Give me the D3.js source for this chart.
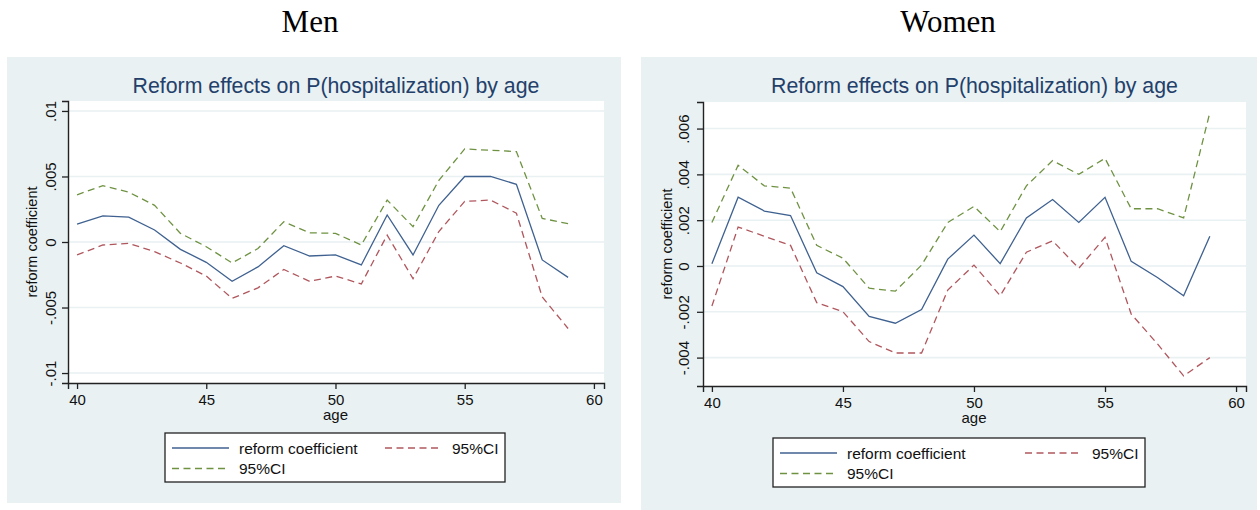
<!DOCTYPE html>
<html>
<head>
<meta charset="utf-8">
<script src="https://cdn.jsdelivr.net/npm/d3@7"></script>
<style>
  html, body { margin: 0; padding: 0; background: #ffffff; }
  svg { display: block; }
</style>
</head>
<body>
<svg id="chart" width="1260" height="510"></svg>
<script>
// ---------- data ----------
const ages = [40,41,42,43,44,45,46,47,48,49,50,51,52,53,54,55,56,57,58,59];

const menCoef  = [0.00137,0.0020,0.0019,0.00092,-0.00056,-0.00155,-0.0030,-0.0019,-0.00028,-0.00107,-0.00099,-0.00175,0.00206,-0.00099,0.0028,0.0050,0.0050,0.0044,-0.00137,-0.0027];
const menLower = [-0.00099,-0.00023,-0.0001,-0.00074,-0.0016,-0.0026,-0.0043,-0.0035,-0.0021,-0.0030,-0.0026,-0.0032,0.00053,-0.0028,0.0008,0.0031,0.0032,0.0022,-0.0042,-0.0066];
const menUpper = [0.0036,0.0043,0.0038,0.0028,0.00066,-0.00036,-0.0016,-0.0005,0.00155,0.0007,0.00066,-0.00023,0.0032,0.00117,0.0047,0.0071,0.0070,0.0069,0.0018,0.0014];

const womenCoef  = [0.0001,0.0030,0.0024,0.0022,-0.0003,-0.0009,-0.0022,-0.0025,-0.0019,0.0003,0.00135,0.0001,0.0021,0.0029,0.0019,0.0030,0.0002,-0.0005,-0.0013,0.0013];
const womenLower = [-0.00175,0.0017,0.0013,0.0009,-0.0016,-0.0020,-0.0033,-0.0038,-0.0038,-0.00105,0.00004,-0.0013,0.0006,0.0011,-0.0001,0.00125,-0.0021,-0.0034,-0.0048,-0.0040];
const womenUpper = [0.0019,0.0044,0.0035,0.0034,0.0009,0.00034,-0.00097,-0.0011,0.00004,0.0019,0.0026,0.0015,0.0035,0.0046,0.0040,0.0047,0.0025,0.0025,0.0021,0.0067];

const xTicks = [40,45,50,55,60];
const menYTicks = [-0.01,-0.005,0,0.005,0.01];
const menYLabels = ["-.01","-.005","0",".005",".01"];
const womenYTicks = [-0.004,-0.002,0,0.002,0.004,0.006];
const womenYLabels = ["-.004","-.002","0",".002",".004",".006"];

const panelTitles = ["Men","Women"];
const chartTitle = "Reform effects on P(hospitalization) by age";
const xTitle = "age";
const yTitle = "reform coefficient";
const legendLabels = ["reform coefficient","95%CI","95%CI"];

// ---------- styles ----------
const C_BG = "#e9f1f3";
const C_GRID = "#e9f1f3";
const C_BLUE = "#3f6190";
const C_RED = "#b0575e";
const C_GREEN = "#6f9242";
const C_TITLE = "#23406a";
const SANS = "'Liberation Sans', Arial, sans-serif";
const SERIF = "'Liberation Serif', 'Times New Roman', serif";
const DASH = "7,4.5";

const svg = d3.select("#chart");

function drawPanel(cfg) {
  const g = svg.append("g");
  // panel background
  g.append("rect").attr("x", cfg.bg[0]).attr("y", cfg.bg[1])
    .attr("width", cfg.bg[2]).attr("height", cfg.bg[3]).attr("fill", C_BG);
  // top label
  svg.append("text").attr("x", cfg.headX).attr("y", 32)
    .attr("text-anchor", "middle").attr("font-family", SERIF)
    .attr("font-size", 31).attr("fill", "#000").text(cfg.head);

  const x = d3.scaleLinear().domain(cfg.xDomain).range([cfg.left, cfg.right]);
  const y = d3.scaleLinear().domain(cfg.yDomain).range([cfg.bottom, cfg.top]);

  // plot area
  g.append("rect").attr("x", cfg.left).attr("y", cfg.top)
    .attr("width", cfg.right - cfg.left).attr("height", cfg.bottom - cfg.top)
    .attr("fill", "#ffffff");

  // grid
  g.selectAll(".grid").data(cfg.yTicks).enter().append("line")
    .attr("x1", cfg.left).attr("x2", cfg.right)
    .attr("y1", d => y(d)).attr("y2", d => y(d))
    .attr("stroke", C_GRID).attr("stroke-width", 1.6);

  // title
  g.append("text").attr("x", (cfg.left + cfg.right) / 2).attr("y", 93)
    .attr("text-anchor", "middle").attr("font-family", SANS)
    .attr("font-size", 21.3).attr("fill", C_TITLE).text(chartTitle);

  // lines
  const line = d3.line().x((d, i) => x(ages[i])).y(d => y(d));
  const series = [
    {v: cfg.upper, c: C_GREEN, dash: DASH},
    {v: cfg.lower, c: C_RED, dash: DASH},
    {v: cfg.coef, c: C_BLUE, dash: null}
  ];
  series.forEach(s => {
    g.append("path").attr("d", line(s.v)).attr("fill", "none")
      .attr("stroke", s.c).attr("stroke-width", 1.3)
      .attr("stroke-dasharray", s.dash);
  });

  // x axis
  const xAxis = d3.axisBottom(x).tickValues(xTicks).tickSize(6).tickPadding(5)
    .tickFormat(d3.format("d"));
  const xa = g.append("g").attr("transform", `translate(0,${cfg.bottom})`).call(xAxis);
  xa.select(".domain").attr("stroke", "#222").attr("stroke-width", 1.4);
  xa.selectAll(".tick line").attr("stroke", "#222").attr("stroke-width", 1.3);
  xa.selectAll(".tick text").attr("font-family", SANS).attr("font-size", 15).attr("fill", "#111");
  g.append("text").attr("x", x(50)).attr("y", cfg.bottom + 37)
    .attr("text-anchor", "middle").attr("font-family", SANS)
    .attr("font-size", 15).attr("fill", "#111").text(xTitle);

  // y axis
  const yAxis = d3.axisLeft(y).tickValues(cfg.yTicks).tickSize(6).tickPadding(0)
    .tickFormat((d, i) => cfg.yLabels[i]);
  const ya = g.append("g").attr("transform", `translate(${cfg.left},0)`).call(yAxis);
  ya.select(".domain").attr("stroke", "#222").attr("stroke-width", 1.4);
  ya.selectAll(".tick line").attr("stroke", "#222").attr("stroke-width", 1.3);
  ya.selectAll(".tick text")
    .attr("font-family", SANS).attr("font-size", 15).attr("fill", "#111")
    .attr("x", 0).attr("dy", null).attr("dominant-baseline", "central")
    .attr("text-anchor", "middle")
    .attr("transform", `translate(${cfg.yLabelX - cfg.left},0) rotate(-90)`);
  g.append("text")
    .attr("transform", `translate(${cfg.yTitleX},${(cfg.top + cfg.bottom) / 2}) rotate(-90)`)
    .attr("text-anchor", "middle").attr("dominant-baseline", "central")
    .attr("font-family", SANS).attr("font-size", 14.5).attr("fill", "#111").text(yTitle);

  // legend
  const L = cfg.legend;
  g.append("rect").attr("x", L.x).attr("y", L.y).attr("width", L.w).attr("height", L.h)
    .attr("fill", "#fff").attr("stroke", "#222").attr("stroke-width", 1.3);
  const items = [
    {c: C_BLUE, dash: null, col: 0, row: 0, label: legendLabels[0]},
    {c: C_RED, dash: DASH, col: 1, row: 0, label: legendLabels[1]},
    {c: C_GREEN, dash: DASH, col: 0, row: 1, label: legendLabels[2]}
  ];
  items.forEach(it => {
    const x0 = L.x + 7 + it.col * L.colW;
    const yy = L.y + 15 + it.row * 20.5;
    g.append("line").attr("x1", x0).attr("x2", x0 + 57).attr("y1", yy).attr("y2", yy)
      .attr("stroke", it.c).attr("stroke-width", 1.3).attr("stroke-dasharray", it.dash);
    g.append("text").attr("x", x0 + 67).attr("y", yy).attr("dominant-baseline", "central")
      .attr("font-family", SANS).attr("font-size", 15.5).attr("fill", "#111").text(it.label);
  });
}

drawPanel({
  head: panelTitles[0], headX: 310,
  bg: [7, 57, 614, 446],
  left: 68, right: 604, top: 101, bottom: 383,
  xDomain: [39.65, 60.39], yDomain: [-0.01076, 0.01076],
  yTicks: menYTicks, yLabels: menYLabels,
  yLabelX: 50, yTitleX: 32,
  coef: menCoef, lower: menLower, upper: menUpper,
  legend: {x: 165, y: 433, w: 340, h: 49, colW: 213}
});

drawPanel({
  head: panelTitles[1], headX: 948,
  bg: [641, 57, 616, 453],
  left: 703, right: 1246, top: 102, bottom: 386,
  xDomain: [39.66, 60.38], yDomain: [-0.00524, 0.00716],
  yTicks: womenYTicks, yLabels: womenYLabels,
  yLabelX: 683, yTitleX: 667,
  coef: womenCoef, lower: womenLower, upper: womenUpper,
  legend: {x: 773, y: 438, w: 372, h: 49, colW: 245}
});
</script>
</body>
</html>
